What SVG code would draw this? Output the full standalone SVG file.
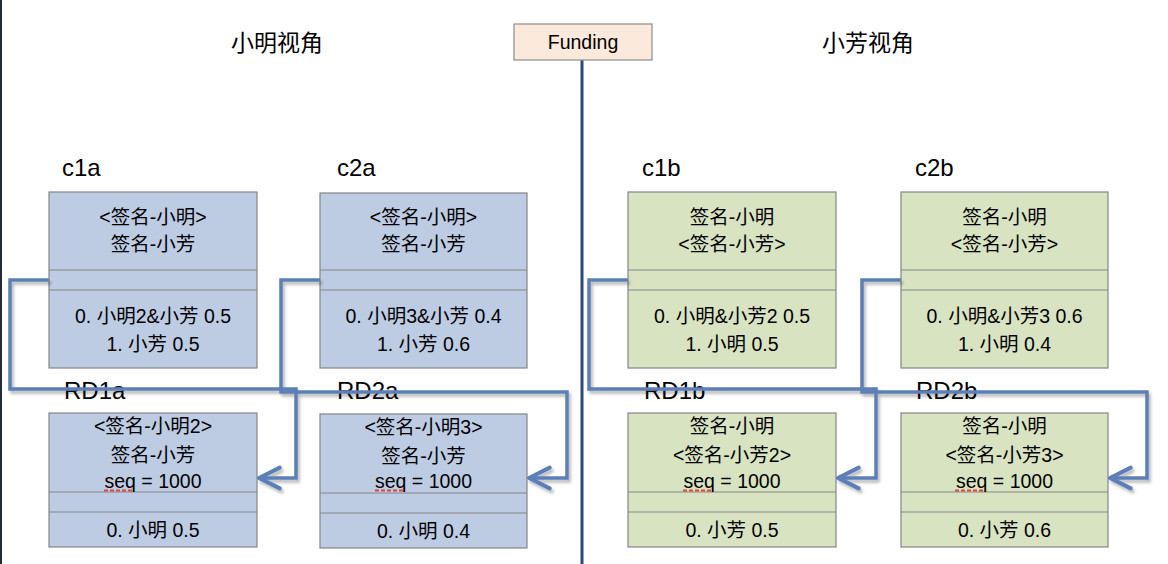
<svg xmlns="http://www.w3.org/2000/svg" width="1168" height="564" viewBox="0 0 1168 564">
<style>
text{font-family:"Liberation Sans","Noto Sans CJK SC",sans-serif;fill:#000}
.t{font-size:19.5px;text-anchor:middle}
.lbl{font-size:24px}
.ttl{font-size:23px;text-anchor:middle}
.blue{fill:#bdcce3;stroke:#858585;stroke-width:1.2}
.green{fill:#d8e3c2;stroke:#858585;stroke-width:1.2}
.div{stroke:#858585;stroke-width:1.2}
.conn{fill:none;stroke:#5b7fb8;stroke-width:3.5;stroke-linejoin:miter}
.sq{stroke:#e0453a;stroke-width:2;stroke-dasharray:4 2}
</style>
<defs>
<marker id="arr" markerUnits="userSpaceOnUse" markerWidth="30" markerHeight="30" refX="0" refY="0" viewBox="-22 -13 26 26" orient="auto" overflow="visible">
<path d="M-18,-9 L0,0 L-18,9" fill="none" stroke="#5b7fb8" stroke-width="3.5" stroke-linecap="round" stroke-linejoin="round"/>
</marker>
<filter id="sh" x="-5%" y="-5%" width="110%" height="120%">
<feDropShadow dx="2" dy="3" stdDeviation="1.5" flood-color="#000" flood-opacity="0.28"/>
</filter>
</defs>
<rect width="1168" height="564" fill="#fff"/>
<line x1="1" y1="0" x2="1" y2="564" stroke="#232a38" stroke-width="2"/>

<g id="titles">
<text class="ttl" x="277" y="51">小明视角</text>
<text class="ttl" x="868" y="51">小芳视角</text>
</g>

<g id="funding">
<line x1="582" y1="60" x2="582" y2="564" stroke="#2e4a7c" stroke-width="3"/>
<rect x="514" y="24" width="138" height="36" fill="#fbe9db" stroke="#8c8c8c" stroke-width="1.2"/>
<text x="583" y="49" font-size="19.5" text-anchor="middle">Funding</text>
</g>

<g id="c1a">
<text class="lbl" x="62" y="176">c1a</text>
<rect class="blue" x="49" y="192" width="208" height="176"/>
<line class="div" x1="49" y1="270" x2="257" y2="270"/>
<line class="div" x1="49" y1="290" x2="257" y2="290"/>
<text class="t" x="153" y="224">&lt;签名-小明&gt;</text>
<text class="t" x="153" y="251">签名-小芳</text>
<text class="t" x="153" y="323">0. 小明2&amp;小芳 0.5</text>
<text class="t" x="153" y="351">1. 小芳 0.5</text>
</g>

<g id="c2a">
<text class="lbl" x="337" y="176">c2a</text>
<rect class="blue" x="320" y="193" width="207" height="175"/>
<line class="div" x1="320" y1="270" x2="527" y2="270"/>
<line class="div" x1="320" y1="290" x2="527" y2="290"/>
<text class="t" x="423.5" y="224">&lt;签名-小明&gt;</text>
<text class="t" x="423.5" y="251">签名-小芳</text>
<text class="t" x="423.5" y="323">0. 小明3&amp;小芳 0.4</text>
<text class="t" x="423.5" y="351">1. 小芳 0.6</text>
</g>

<g id="c1b">
<text class="lbl" x="642" y="176">c1b</text>
<rect class="green" x="628" y="192" width="208" height="176"/>
<line class="div" x1="628" y1="270" x2="836" y2="270"/>
<line class="div" x1="628" y1="290" x2="836" y2="290"/>
<text class="t" x="732" y="224">签名-小明</text>
<text class="t" x="732" y="251">&lt;签名-小芳&gt;</text>
<text class="t" x="732" y="323">0. 小明&amp;小芳2 0.5</text>
<text class="t" x="732" y="351">1. 小明 0.5</text>
</g>

<g id="c2b">
<text class="lbl" x="915" y="176">c2b</text>
<rect class="green" x="901" y="192" width="207" height="176"/>
<line class="div" x1="901" y1="270" x2="1108" y2="270"/>
<line class="div" x1="901" y1="290" x2="1108" y2="290"/>
<text class="t" x="1004.5" y="224">签名-小明</text>
<text class="t" x="1004.5" y="251">&lt;签名-小芳&gt;</text>
<text class="t" x="1004.5" y="323">0. 小明&amp;小芳3 0.6</text>
<text class="t" x="1004.5" y="351">1. 小明 0.4</text>
</g>

<g id="RD1a">
<text class="lbl" x="64" y="399">RD1a</text>
<rect class="blue" x="49" y="413" width="208" height="134"/>
<line class="div" x1="49" y1="492" x2="257" y2="492"/>
<line class="div" x1="49" y1="512" x2="257" y2="512"/>
<text class="t" x="153" y="433">&lt;签名-小明2&gt;</text>
<text class="t" x="153" y="462">签名-小芳</text>
<text class="t" x="153" y="488">seq = 1000</text>
<line class="sq" x1="104" y1="490.5" x2="133" y2="490.5"/>
<text class="t" x="153" y="537">0. 小明 0.5</text>
</g>

<g id="RD2a">
<text class="lbl" x="337" y="399">RD2a</text>
<rect class="blue" x="320" y="414" width="207" height="134"/>
<line class="div" x1="320" y1="493" x2="527" y2="493"/>
<line class="div" x1="320" y1="513" x2="527" y2="513"/>
<text class="t" x="423.5" y="434">&lt;签名-小明3&gt;</text>
<text class="t" x="423.5" y="463">签名-小芳</text>
<text class="t" x="423.5" y="488">seq = 1000</text>
<line class="sq" x1="375" y1="490.5" x2="404" y2="490.5"/>
<text class="t" x="423.5" y="538">0. 小明 0.4</text>
</g>

<g id="RD1b">
<text class="lbl" x="644" y="399">RD1b</text>
<rect class="green" x="628" y="413" width="208" height="134"/>
<line class="div" x1="628" y1="492" x2="836" y2="492"/>
<line class="div" x1="628" y1="512" x2="836" y2="512"/>
<text class="t" x="732" y="433">签名-小明</text>
<text class="t" x="732" y="462">&lt;签名-小芳2&gt;</text>
<text class="t" x="732" y="488">seq = 1000</text>
<line class="sq" x1="683" y1="490.5" x2="712" y2="490.5"/>
<text class="t" x="732" y="537">0. 小芳 0.5</text>
</g>

<g id="RD2b">
<text class="lbl" x="916" y="399">RD2b</text>
<rect class="green" x="901" y="413" width="207" height="134"/>
<line class="div" x1="901" y1="492" x2="1108" y2="492"/>
<line class="div" x1="901" y1="512" x2="1108" y2="512"/>
<text class="t" x="1004.5" y="433">签名-小明</text>
<text class="t" x="1004.5" y="462">&lt;签名-小芳3&gt;</text>
<text class="t" x="1004.5" y="488">seq = 1000</text>
<line class="sq" x1="955" y1="490.5" x2="984" y2="490.5"/>
<text class="t" x="1004.5" y="537">0. 小芳 0.6</text>
</g>

<g id="connectors" filter="url(#sh)">
<path class="conn" d="M49,280 H10 V389 H296 V478 H259" marker-end="url(#arr)"/>
<path class="conn" d="M320,280 H281 V392 H567 V478 H529" marker-end="url(#arr)"/>
<path class="conn" d="M628,280 H589 V389 H876 V478 H838" marker-end="url(#arr)"/>
<path class="conn" d="M901,280 H862 V392 H1147 V478 H1110" marker-end="url(#arr)"/>
</g>
</svg>
